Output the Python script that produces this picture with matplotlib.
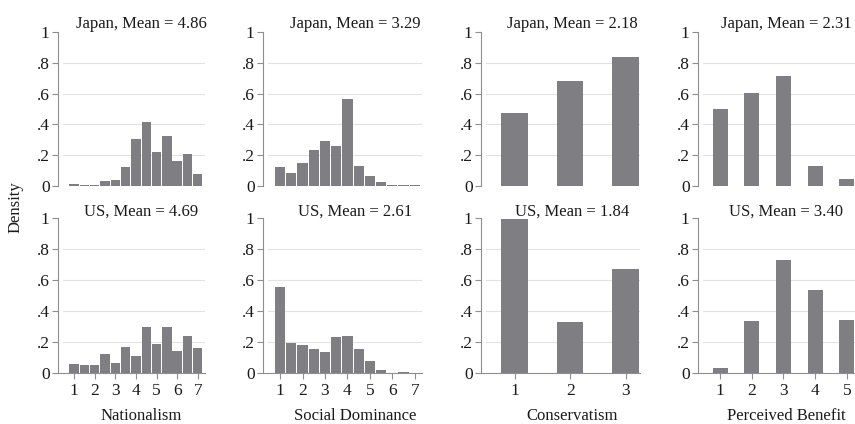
import matplotlib.pyplot as plt

plt.rcParams['font.family'] = ['Liberation Serif', 'DejaVu Serif']

# values on the 1-7 scales come in half-point steps
half_steps = [1, 1.5, 2, 2.5, 3, 3.5, 4, 4.5, 5, 5.5, 6, 6.5, 7]
scale_ticks_7 = [1, 2, 3, 4, 5, 6, 7]
conserv_vals = [1, 2, 3]
benefit_vals = [1, 2, 3, 4, 5]

nat_japan = [0.015, 0.006, 0.009, 0.035, 0.037, 0.121, 0.303, 0.413, 0.219, 0.325, 0.162, 0.206, 0.076]
nat_us = [0.058, 0.056, 0.052, 0.127, 0.069, 0.172, 0.110, 0.297, 0.187, 0.299, 0.142, 0.239, 0.161]

sdo_japan = [0.121, 0.082, 0.147, 0.234, 0.290, 0.262, 0.565, 0.130, 0.063, 0.024, 0.009, 0.006, 0.004]
sdo_us = [0.555, 0.198, 0.183, 0.157, 0.135, 0.234, 0.239, 0.155, 0.082, 0.019, 0.002, 0.011, 0.002]

cons_japan = [0.474, 0.682, 0.840]
cons_us = [0.994, 0.331, 0.671]

ben_japan = [0.500, 0.606, 0.714, 0.128, 0.043]
ben_us = [0.037, 0.340, 0.733, 0.535, 0.342]

means_japan = ['4.86', '3.29', '2.18', '2.31']
means_us = ['4.69', '2.61', '1.84', '3.40']
var_names = ['Nationalism', 'Social Dominance', 'Conservatism', 'Perceived Benefit']

BAR = '#7f7f83'
AXIS = '#8e8e8e'
GRID = '#e2e2e2'
TEXT = '#1a1a1a'

W, H = 855, 424
fig = plt.figure(figsize=(W / 100, H / 100), dpi=100)

# x, values, bar width, ticks, pixel extent, data limits, text centre
columns = [
    (half_steps, nat_japan, nat_us, 0.455, scale_ticks_7, (58, 205), (0.22, 7.35), 141),
    (half_steps, sdo_japan, sdo_us, 0.455, scale_ticks_7, (263, 422), (0.24, 7.32), 355),
    (conserv_vals, cons_japan, cons_us, 0.48, conserv_vals, (481, 640), (0.39, 3.26), 572),
    (benefit_vals, ben_japan, ben_us, 0.48, benefit_vals, (698, 855), (0.30, 5.26), 786),
]

# pixel rows: (y of 0, y of 1, title baseline)
rows = [(186, 32, 28.5), (373.3, 218.3, 215.7)]

for col, (xs, top_vals, bot_vals, bw, ticks, (x0, x1), xlim, xc) in enumerate(columns):
    for r, vals in enumerate([top_vals, bot_vals]):
        y0, y1, ty = rows[r]
        ax = fig.add_axes([x0 / W, 1 - y0 / H, (x1 - x0) / W, (y0 - y1) / H])
        ax.bar(xs, vals, width=bw, color=BAR, linewidth=0, zorder=2)
        for g in [0.2, 0.4, 0.6, 0.8]:
            ax.axhline(g, xmin=5 / (x1 - x0), xmax=1, color=GRID, lw=0.8, zorder=1)
        ax.set_xlim(*xlim)
        ax.set_ylim(0, 1)
        ax.set_yticks([0, 0.2, 0.4, 0.6, 0.8, 1])
        ax.set_yticklabels(['0', '.2', '.4', '.6', '.8', '1'])
        ax.tick_params(axis='y', length=4, width=0.8, color=AXIS, pad=2,
                       labelsize=12.5, labelcolor=TEXT)
        for s in ['top', 'right']:
            ax.spines[s].set_visible(False)
        ax.spines['left'].set_color(AXIS)
        ax.spines['left'].set_linewidth(0.8)
        if r == 0:
            ax.spines['bottom'].set_visible(False)
            ax.tick_params(axis='x', bottom=False, labelbottom=False)
            country, mean = 'Japan', means_japan[col]
        else:
            ax.spines['bottom'].set_color(AXIS)
            ax.spines['bottom'].set_linewidth(0.8)
            ax.set_xticks(ticks)
            ax.tick_params(axis='x', length=4, width=0.8, color=AXIS, pad=3,
                           labelsize=12.5, labelcolor=TEXT)
            country, mean = 'US', means_us[col]
            fig.text(xc / W, 1 - 420.5 / H, var_names[col], ha='center', va='baseline',
                     fontsize=12, color=TEXT)
        ax.set_facecolor('none')
        fig.text(xc / W, 1 - ty / H, f'{country}, Mean = {mean}', ha='center',
                 va='baseline', fontsize=12, color=TEXT)

fig.text(16 / W, 1 - 207 / H, 'Density', rotation=90, ha='center', va='center',
         fontsize=12, color=TEXT)

fig.savefig('out.png', dpi=100)
